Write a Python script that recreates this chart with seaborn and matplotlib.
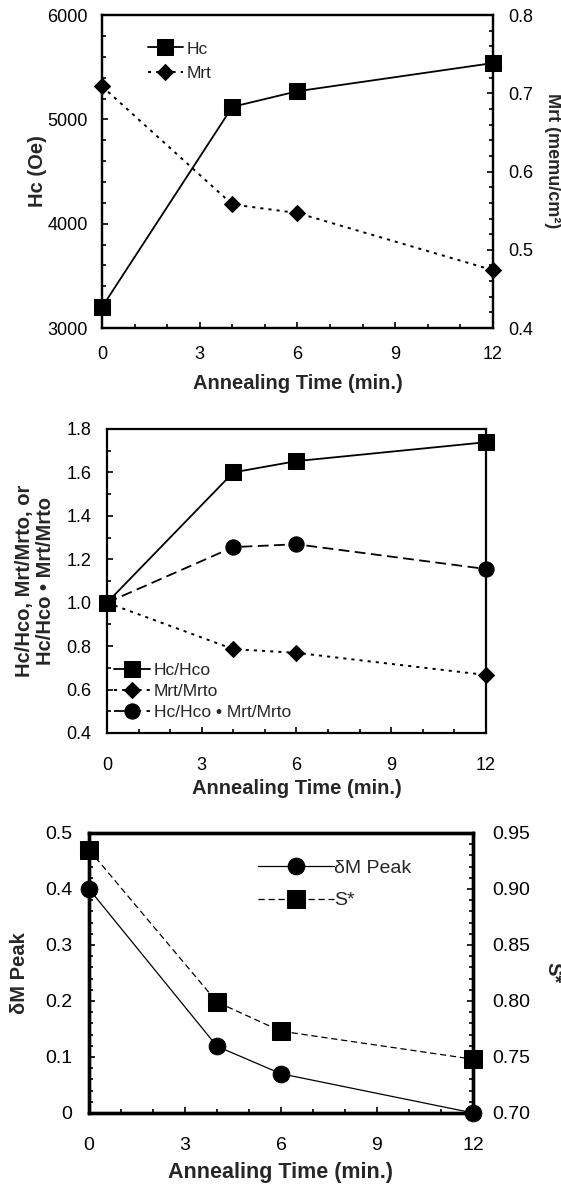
import matplotlib
matplotlib.use("Agg")
import matplotlib.pyplot as plt
from matplotlib.ticker import MultipleLocator, FormatStrFormatter, FuncFormatter
import seaborn as sns

# annealing time (min.)
time_min = [0, 4, 6, 12]
x_major = 3

# top panel
hc_oe = [3200, 5120, 5270, 5540]
mrt = [0.709, 0.558, 0.547, 0.474]

# middle panel
hc_ratio = [1.00, 1.60, 1.652, 1.739]
mrt_ratio = [1.00, 0.786, 0.769, 0.667]
product_ratio = [1.00, 1.256, 1.269, 1.155]

# bottom panel
dm_peak = [0.40, 0.119, 0.070, 0.0]
s_star = [0.935, 0.799, 0.773, 0.748]

sns.set_style("ticks")
plt.rcParams["font.family"] = ["Liberation Sans", "DejaVu Sans"]
plt.rcParams["axes.edgecolor"] = "black"

DOT = (0, (1.6, 2.6))
DASH = (0, (5, 3))
LONGDASH = (0, (6, 3))


def series(ax, y, marker, ms, ls, lw, label):
    sns.lineplot(x=time_min, y=y, ax=ax, color="black", marker=marker,
                 markersize=ms, markeredgecolor="black", markerfacecolor="black",
                 linestyle=ls, linewidth=lw, label=label, errorbar=None,
                 clip_on=False)
    if ax.get_legend() is not None:
        ax.get_legend().remove()
    return ax.lines[-1]


def style_axes(ax, spine_w, tick_fs, xpad, ypad):
    for s in ax.spines.values():
        s.set_linewidth(spine_w)
    ax.set_xlim(0, 12)
    ax.xaxis.set_major_locator(MultipleLocator(x_major))
    ax.xaxis.set_minor_locator(MultipleLocator(1))
    ax.tick_params(which="both", direction="in", width=1.2, colors="black",
                   labelsize=tick_fs, top=False, right=False)
    ax.tick_params(which="major", length=4)
    ax.tick_params(which="minor", length=3)
    ax.tick_params(axis="x", pad=xpad)
    ax.tick_params(axis="y", pad=ypad)


def style_twin(ax, spine_w, tick_fs, pad):
    for s in ax.spines.values():
        s.set_linewidth(spine_w)
    ax.tick_params(which="both", direction="in", width=1.2, colors="black",
                   labelsize=tick_fs, left=False, right=True, pad=pad)
    ax.tick_params(which="major", length=4)
    ax.tick_params(which="minor", length=3)


fig = plt.figure(figsize=(5.61, 11.86), dpi=100)

# ---- top: Hc and Mrt ----
ax1 = fig.add_axes([0.1818, 0.7234, 0.697, 0.2639])
ax1b = ax1.twinx()
h1 = series(ax1, hc_oe, "s", 11.5, "-", 1.3, "Hc")
h2 = series(ax1b, mrt, "D", 8.5, DOT, 1.4, "Mrt")
style_axes(ax1, 1.6, 13, 13, 10)
ax1.set_ylim(3000, 6000)
ax1.yaxis.set_major_locator(MultipleLocator(1000))
ax1.yaxis.set_minor_locator(MultipleLocator(200))
style_twin(ax1b, 1.6, 13, 11)
ax1b.set_ylim(0.4, 0.8)
ax1b.yaxis.set_major_locator(MultipleLocator(0.1))
ax1b.yaxis.set_minor_locator(MultipleLocator(0.02))
ax1b.yaxis.set_major_formatter(FormatStrFormatter("%.1f"))
ax1.set_xlabel("Annealing Time (min.)", fontsize=14.5, fontweight="bold")
ax1.xaxis.set_label_coords(0.5, -0.146)
ax1.set_ylabel("Hc (Oe)", fontsize=14.5, fontweight="bold", va="center")
ax1.yaxis.set_label_coords(-0.166, 0.5)
ax1b.set_ylabel("Mrt (memu/cm²)", fontsize=13, fontweight="bold",
                rotation=270, va="center")
ax1b.yaxis.set_label_coords(1.151, 0.534)
ax1b.legend([h1, h2], ["Hc", "Mrt"], loc="upper left",
            bbox_to_anchor=(0.118, 0.916), frameon=False, fontsize=12.5,
            borderpad=0, borderaxespad=0, handlelength=2.0,
            handletextpad=0.2, labelspacing=0.55)

# ---- middle: normalised values ----
ax2 = fig.add_axes([0.1907, 0.382, 0.6756, 0.2563])
g1 = series(ax2, hc_ratio, "s", 11, "-", 1.3, "Hc/Hco")
g2 = series(ax2, mrt_ratio, "D", 8, DOT, 1.4, "Mrt/Mrto")
g3 = series(ax2, product_ratio, "o", 11, LONGDASH, 1.3, "Hc/Hco • Mrt/Mrto")
style_axes(ax2, 1.6, 13, 17, 11)
ax2.set_ylim(0.4, 1.8)
ax2.yaxis.set_major_locator(MultipleLocator(0.2))
ax2.yaxis.set_minor_locator(MultipleLocator(0.1))
ax2.yaxis.set_major_formatter(FormatStrFormatter("%.1f"))
ax2.set_xlabel("Annealing Time (min.)", fontsize=14.5, fontweight="bold")
ax2.xaxis.set_label_coords(0.5, -0.151)
ax2.set_ylabel("Hc/Hco, Mrt/Mrto, or\nHc/Hco • Mrt/Mrto", fontsize=14.5,
               fontweight="bold", va="center", linespacing=1.1)
ax2.yaxis.set_label_coords(-0.19, 0.5)
ax2.legend([g1, g2, g3], ["Hc/Hco", "Mrt/Mrto", "Hc/Hco • Mrt/Mrto"],
           loc="lower left", bbox_to_anchor=(0.018, 0.043), frameon=False,
           fontsize=12.5, borderpad=0, borderaxespad=0, handlelength=2.1,
           handletextpad=0.2, labelspacing=0.32)

# ---- bottom: dM peak and S* ----
ax3 = fig.add_axes([0.1586, 0.0616, 0.6845, 0.2361])
ax3b = ax3.twinx()
k1 = series(ax3, dm_peak, "o", 12, "-", 0.9, "δM Peak")
k2 = series(ax3b, s_star, "s", 13, DASH, 0.9, "S*")
style_axes(ax3, 2.4, 14, 17.5, 12)
ax3.set_ylim(0, 0.5)
ax3.yaxis.set_major_locator(MultipleLocator(0.1))
ax3.yaxis.set_minor_locator(MultipleLocator(0.02))
ax3.yaxis.set_major_formatter(FuncFormatter(lambda v, _: "0" if abs(v) < 1e-9 else f"{v:.1f}"))
style_twin(ax3b, 2.4, 14, 14)
ax3b.set_ylim(0.70, 0.95)
ax3b.yaxis.set_major_locator(MultipleLocator(0.05))
ax3b.yaxis.set_minor_locator(MultipleLocator(0.01))
ax3b.yaxis.set_major_formatter(FormatStrFormatter("%.2f"))
ax3.set_xlabel("Annealing Time (min.)", fontsize=15.5, fontweight="bold")
ax3.xaxis.set_label_coords(0.5, -0.175)
ax3.set_ylabel("δM Peak", fontsize=14.5, fontweight="bold", va="center")
ax3.yaxis.set_label_coords(-0.18, 0.5)
ax3b.set_ylabel("S*", fontsize=14.5, fontweight="bold", rotation=270, va="center")
ax3b.yaxis.set_label_coords(1.208, 0.5)
ax3b.legend([k1, k2], ["δM Peak", "S*"], loc="upper left",
            bbox_to_anchor=(0.44, 0.905), frameon=False, fontsize=14,
            borderpad=0, borderaxespad=0, handlelength=3.9,
            handletextpad=0.0, labelspacing=0.75)

fig.savefig("out.png", dpi=100)
